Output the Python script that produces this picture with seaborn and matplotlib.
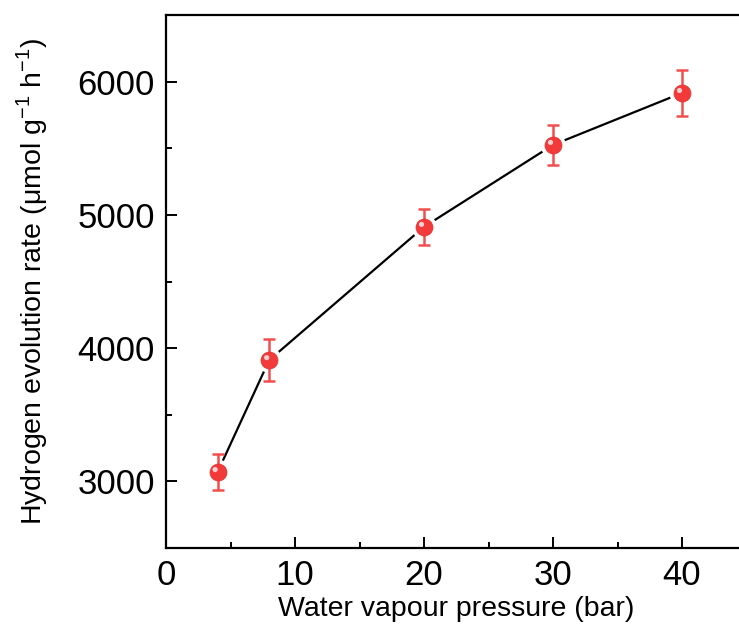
import matplotlib
matplotlib.use("Agg")
import matplotlib.pyplot as plt
import matplotlib.transforms as mtransforms
from matplotlib.ticker import MultipleLocator
import seaborn as sns
import pandas as pd

pressure = [4, 8, 20, 30, 40]
rate = [3070, 3910, 4910, 5525, 5915]
rate_err = [135, 160, 135, 150, 175]

df = pd.DataFrame({"pressure": pressure, "rate": rate, "err": rate_err})

sns.set_style("ticks")
plt.rcParams["font.family"] = ["Liberation Sans", "DejaVu Sans"]
plt.rcParams["mathtext.fontset"] = "custom"
plt.rcParams["mathtext.rm"] = "Liberation Sans"
plt.rcParams["text.color"] = "black"
plt.rcParams["axes.labelcolor"] = "black"
plt.rcParams["xtick.color"] = "black"
plt.rcParams["ytick.color"] = "black"

fig = plt.figure(figsize=(7.39, 6.37), dpi=100)
# x: 0 at px 166, 12.9 px per unit; xlim 0..45 extends past right edge (cropped like reference)
ax = fig.add_axes([166 / 739, 1 - 548 / 637, (45 * 12.9) / 739, (548 - 15) / 637])

sns.lineplot(data=df, x="pressure", y="rate", ax=ax, color="black", lw=1.6,
             zorder=2, legend=False)
# white halo to create gap between line and markers
sns.scatterplot(data=df, x="pressure", y="rate", ax=ax, s=330, color="white",
                edgecolor="none", zorder=3, legend=False)
ax.errorbar(df["pressure"], df["rate"], yerr=df["err"], fmt="none",
            ecolor="#f24e4e", elinewidth=1.8, capsize=4.5, capthick=1.8, zorder=4)
sns.scatterplot(data=df, x="pressure", y="rate", ax=ax, s=150, color="#f23a3a",
                edgecolor="#e83030", linewidth=0.5, zorder=5, legend=False)
off = mtransforms.offset_copy(ax.transData, fig=fig, x=-1.8, y=1.8, units="points")
ax.scatter(df["pressure"], df["rate"], s=14, color="#ffd0d0", edgecolor="none",
           transform=off, zorder=6)

ax.set_xlim(0, 45)
ax.set_ylim(2500, 6500)
ax.xaxis.set_major_locator(MultipleLocator(10))
ax.xaxis.set_minor_locator(MultipleLocator(5))
ax.yaxis.set_major_locator(MultipleLocator(1000))
ax.yaxis.set_minor_locator(MultipleLocator(500))
ax.set_yticks([3000, 4000, 5000, 6000])

for s in ["left", "bottom", "top"]:
    ax.spines[s].set_linewidth(1.6)
    ax.spines[s].set_color("black")
ax.spines["right"].set_visible(False)

ax.tick_params(which="major", direction="in", length=8, width=1.4, labelsize=25,
               pad=8, top=False, right=False)
ax.tick_params(which="minor", direction="in", length=4, width=1.4, top=False, right=False)

ax.set_xlabel("Water vapour pressure (bar)", fontsize=20.5, labelpad=3)
ax.set_ylabel(r"Hydrogen evolution rate (μmol g$^{\mathrm{-1}}$ h$^{\mathrm{-1}}$)",
              fontsize=20.5, labelpad=20)

fig.savefig("out.png", dpi=100)
